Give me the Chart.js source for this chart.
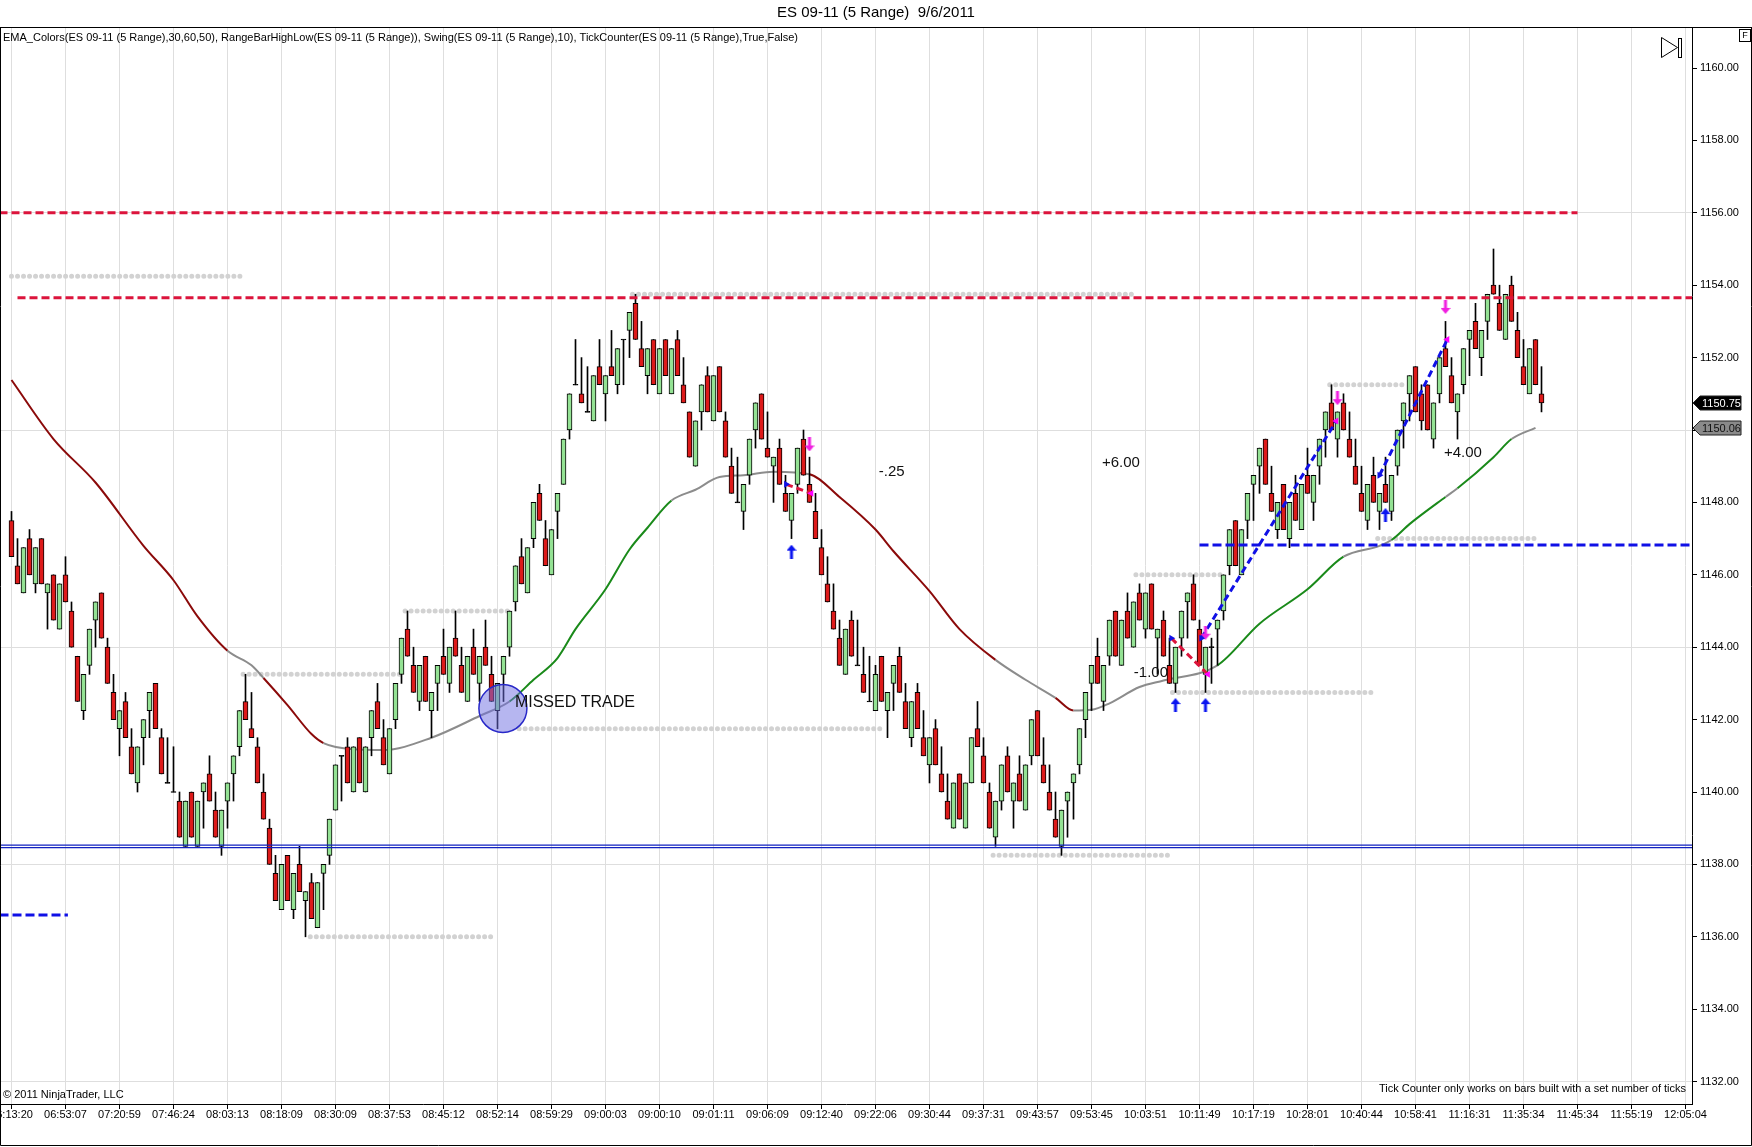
<!DOCTYPE html>
<html>
<head>
<meta charset="utf-8">
<title>ES 09-11 (5 Range) 9/6/2011</title>
<script src="https://cdn.jsdelivr.net/npm/chart.js@4.4.1/dist/chart.umd.min.js"></script>
<style>
  html, body { margin: 0; padding: 0; background: #fff; }
  #wrap { width: 1752px; height: 1147px; }
</style>
</head>
<body>
<div id="wrap"><canvas id="myChart"></canvas></div>
<script>
// 5-range bars, one per index
var opens = [
  1147.5,1146.25,1145.5,1147,1145.75,1147,1145.5,1146,1144.5,1146,
  1145,1143.75,1142.25,1143.5,1144.75,1145.5,1144,1142.75,1141.75,1142.5,
  1141.25,1140.25,1141.5,1142.25,1143,1141.5,1140.25,1140,1139.75,1138.5,
  1140,1138.5,1140,1140.5,1139.5,1138.5,1139.75,1140.5,1141.25,1142.5,
  1141.75,1141.25,1140,1139,1137.75,1136.75,1138.25,1136.75,1138,1137,
  1137.5,1136.25,1137.75,1138.25,1139.5,1141,1141.25,1140,1141.5,1140,
  1141.5,1142.5,1141.5,1140.5,1142,1143.25,1144.5,1143.5,1142.5,1143.75,
  1142.25,1143,1143.75,1143,1144.25,1143.5,1142.5,1144,1143,1144,
  1143.25,1142.25,1143.25,1144,1145.25,1146.5,1145.5,1147,1148.25,1147,
  1146,1147.75,1148.5,1150,1151.25,1151,1150.5,1150.25,1151.75,1151,
  1151.75,1151.25,1152.5,1152.75,1153.5,1152.25,1151.5,1152.5,1151,1152.5,
  1151,1152.5,1151.25,1150.5,1149,1150.5,1151.5,1150.25,1151.75,1150.25,
  1149,1148,1147.75,1148.75,1150,1151,1149.5,1149,1149.5,1148.25,
  1147.5,1148.5,1149.75,1148.5,1147.75,1146.75,1145.75,1145,1144.25,1143.25,
  1144.75,1143.5,1143.25,1142.5,1142.25,1143.75,1142.25,1143,1143.75,1142.5,
  1141.5,1142.75,1141.5,1140.75,1141.75,1140.5,1139.75,1139,1140.5,1139,
  1140.25,1141.75,1141,1140,1138.75,1139.75,1141,1139.75,1140.5,1139.5,
  1141,1142.25,1140.75,1140,1139.25,1138.5,1139.75,1140.25,1140.75,1142,
  1143,1143.75,1142.5,1143.75,1145,1143.5,1145,1144,1145.5,1144.5,
  1145.75,1144.25,1144.75,1143.5,1143,1144.25,1145.25,1145.75,1144.5,1143.25,
  1144,1144.5,1145,1146.25,1147.5,1146,1147.5,1148.5,1149,1149.75,
  1148.25,1147.25,1148.5,1147,1148.25,1147.25,1148.75,1148,1149,1150,
  1150.75,1149.75,1150.75,1149.75,1149,1148.25,1147.5,1148.75,1147.75,1148.5,
  1147.75,1149,1150.25,1151,1151.75,1151,1151.25,1149.75,1151,1152.25,
  1151.5,1150.5,1151.25,1152.5,1153,1152,1153,1154,1153.5,1152.5,
  1154,1152.75,1151.75,1151,1152.5,1151
];
var highs = [
  1147.75,1147,1146.75,1147.25,1146.75,1147,1145.75,1146,1145.75,1146.5,
  1145.25,1143.75,1143.25,1144.5,1145.25,1145.5,1144.25,1143.25,1142.25,1142.75,
  1141.75,1141.25,1142,1142.75,1143,1141.75,1141.5,1141.25,1140,1139.75,
  1140,1139.75,1140.25,1141,1140,1139.5,1140.25,1141,1142.25,1143.25,
  1142.75,1141.5,1140.5,1139.25,1138.25,1138,1138.25,1137.75,1138.5,1137.25,
  1137.75,1137.5,1138,1139.25,1140.75,1141,1141.5,1141.25,1141.5,1141.25,
  1142.25,1143,1142,1141.75,1143,1144.25,1145,1144,1143.5,1143.75,
  1142.75,1143.5,1144.5,1144,1145,1144,1143.75,1144.5,1143.75,1144.75,
  1143.75,1143,1143.75,1145,1146.25,1147,1146.75,1148,1148.5,1147.5,
  1147.25,1148.25,1149.75,1151,1152.5,1152,1151.75,1151.5,1152.5,1151.5,
  1152.75,1152.25,1152.5,1153.25,1153.75,1153,1152.25,1152.5,1152.25,1152.5,
  1152.25,1152.75,1152,1150.5,1150.25,1151.25,1151.75,1151.5,1151.75,1150.5,
  1149.5,1149.25,1148.5,1149.75,1150.75,1151,1150.5,1149.25,1149.75,1148.75,
  1148.25,1149.5,1150,1149.25,1148.25,1147.25,1146.5,1145.75,1144.75,1144.5,
  1145,1144.75,1144,1143.75,1143.5,1143.75,1142.75,1143.5,1144,1143,
  1142.5,1143,1142.25,1141.5,1142,1141.25,1140.5,1140.25,1140.5,1140.25,
  1141.5,1142.5,1141.5,1140.25,1139.75,1140.75,1141.25,1140.25,1141,1140.75,
  1142,1142.25,1141.5,1140.75,1140,1139.5,1140,1140.5,1141.75,1142.75,
  1143.5,1144.25,1143.5,1144.75,1145,1144.75,1145.5,1145.25,1145.75,1145.5,
  1145.75,1144.5,1145,1144.25,1144,1145,1145.5,1146,1144.75,1144,
  1144.25,1144.75,1146,1147.25,1147.5,1147.25,1148.25,1148.75,1149.5,1149.75,
  1149,1148,1148.5,1148,1148.75,1148.5,1149.5,1148.75,1149.75,1150.5,
  1151.25,1150.5,1151,1150.5,1149.75,1149,1148.5,1149.25,1148.25,1149.25,
  1148.75,1150,1150.75,1151.5,1151.75,1151.25,1151.25,1150.75,1152,1153,
  1152,1151,1152.25,1152.75,1153.5,1152.75,1153.75,1155,1154,1153.75,
  1154.25,1153.25,1152.5,1152.25,1152.5,1151.75
];
var lows = [
  1146.5,1145.75,1145.5,1146,1145.5,1145.75,1144.5,1144.75,1144.5,1145.25,
  1144,1142.5,1142,1143.25,1144,1144.25,1143,1142,1141,1141.5,
  1140.5,1140,1140.75,1141.5,1141.75,1140.5,1140.25,1140,1138.75,1138.5,
  1138.75,1138.5,1139,1139.75,1138.75,1138.25,1139,1139.75,1141,1142,
  1141.5,1140.25,1139.25,1138,1137,1136.75,1137,1136.5,1137.25,1136,
  1136.5,1136.25,1136.75,1138,1139.5,1139.75,1140.25,1140,1140.25,1140,
  1141,1141.75,1140.75,1140.5,1141.75,1143,1143.75,1142.75,1142.25,1142.5,
  1141.5,1142.25,1143.25,1142.75,1143.75,1142.75,1142.5,1143.25,1142.5,1143.5,
  1142.5,1141.75,1142.5,1143.75,1145,1145.75,1145.5,1146.75,1147.5,1146.25,
  1146,1147,1148.5,1149.75,1151.25,1150.75,1150.5,1150.25,1151.25,1150.25,
  1151.5,1151,1151.25,1152,1152.5,1151.75,1151,1151.25,1151,1151.5,
  1151,1151.5,1150.75,1149.25,1149,1150,1150.5,1150.25,1150.5,1149.25,
  1148.25,1148,1147.25,1148.5,1149.5,1149.75,1149.25,1148,1148.5,1147.75,
  1147,1148.25,1148.75,1148,1147,1146,1145.25,1144.5,1143.5,1143.25,
  1143.75,1143.5,1142.75,1142.5,1142.25,1142.5,1141.5,1142.25,1142.75,1141.75,
  1141.25,1141.75,1141,1140.25,1140.75,1140,1139.25,1139,1139.25,1139,
  1140.25,1141.25,1140.25,1139,1138.5,1139.5,1140,1139,1139.75,1139.5,
  1140.75,1141,1140.25,1139.5,1138.75,1138.25,1138.75,1139.25,1140.5,1141.5,
  1142.25,1143,1142.25,1143.5,1143.75,1143.5,1144.25,1144,1144.75,1144.25,
  1144.5,1143.25,1143.75,1143,1142.75,1143.75,1144.25,1144.75,1143.5,1142.75,
  1143,1143.5,1144.75,1146,1146.25,1146,1147,1147.5,1148.25,1148.5,
  1147.75,1147,1147.25,1146.75,1147.5,1147.25,1148.25,1147.5,1148.5,1149.25,
  1150,1149.25,1150,1149.25,1148.5,1147.75,1147.25,1148,1147.25,1148,
  1147.5,1148.75,1149.5,1150.25,1150.5,1150,1150,1149.5,1150.75,1151.75,
  1150.75,1149.75,1151,1151.5,1152.25,1151.5,1152.5,1153.75,1152.75,1152.5,
  1153,1152,1151.25,1151,1151.25,1150.5
];
var closes = [
  1146.5,1145.75,1146.75,1146,1146.75,1145.75,1145.75,1144.75,1145.75,1145.25,
  1144,1142.5,1143.25,1144.5,1145.25,1144.25,1143,1142,1142.25,1141.5,
  1140.5,1141.25,1142,1142.75,1141.75,1140.5,1140.25,1140,1138.75,1139.75,
  1138.75,1139.75,1140.25,1139.75,1138.75,1139.5,1140.25,1141,1142.25,1142,
  1141.5,1140.25,1139.25,1138,1137,1138,1137,1137.75,1137.25,1137.25,
  1136.5,1137.5,1138,1139.25,1140.75,1141,1140.25,1141.25,1140.25,1141.25,
  1142.25,1141.75,1140.75,1141.75,1143,1144.25,1143.75,1142.75,1143.5,1142.5,
  1142.75,1143.5,1143.25,1144,1143.75,1142.75,1143.75,1143.25,1143.75,1143.5,
  1142.5,1143,1143.75,1145,1146.25,1145.75,1146.75,1148,1147.5,1146.25,
  1147.25,1148.25,1149.75,1151,1151.25,1150.75,1150.5,1151.5,1151.25,1151.5,
  1151.5,1152.25,1152.5,1153.25,1152.5,1151.75,1152.25,1151.25,1152.25,1151.5,
  1152.25,1151.5,1150.75,1149.25,1150.25,1151.25,1150.5,1151.5,1150.5,1149.25,
  1148.25,1148,1148.5,1149.75,1150.75,1149.75,1149.25,1149.25,1148.5,1147.75,
  1148.25,1149.5,1148.75,1148,1147,1146,1145.25,1144.5,1143.5,1144.5,
  1143.75,1143.5,1142.75,1142.5,1143.25,1142.5,1142.75,1143.5,1142.75,1141.75,
  1142.5,1141.75,1141,1141.5,1140.75,1140,1139.25,1140.25,1139.25,1140.25,
  1141.5,1141.25,1140.25,1139,1139.75,1140.75,1140,1140.25,1139.75,1140.75,
  1142,1141,1140.25,1139.5,1138.75,1139.5,1140,1140.5,1141.75,1142.75,
  1143.5,1143,1143.5,1144.75,1143.75,1144.75,1144.25,1145.25,1144.75,1145.5,
  1144.5,1144.5,1143.75,1143,1144,1145,1145.5,1144.75,1143.5,1144,
  1144,1144.75,1146,1147.25,1146.25,1147.25,1148.25,1148.75,1149.5,1148.5,
  1147.75,1148,1147.25,1148,1147.5,1148.5,1148.25,1148.75,1149.75,1150.5,
  1150,1150.5,1150,1149.25,1148.5,1147.75,1148.5,1148,1148.25,1148,
  1148.75,1150,1150.75,1151.5,1150.5,1150.25,1150,1150.75,1152,1151.75,
  1150.75,1151,1152.25,1152.75,1152.25,1152.75,1153.75,1153.75,1152.75,1153.75,
  1153,1152,1151.25,1152.25,1151.25,1150.75
];

// x axis: a time label every 9 bars
var timeLabels = ["06:13:20","06:53:07","07:20:59","07:46:24","08:03:13","08:18:09","08:30:09","08:37:53",
  "08:45:12","08:52:14","08:59:29","09:00:03","09:00:10","09:01:11","09:06:09","09:12:40",
  "09:22:06","09:30:44","09:37:31","09:43:57","09:53:45","10:03:51","10:11:49","10:17:19",
  "10:28:01","10:40:44","10:58:41","11:16:31","11:35:34","11:45:34","11:55:19","12:05:04"];
var labelEvery = 9;
var priceTicks = [1132,1134,1136,1138,1140,1142,1144,1146,1148,1150,1152,1154,1156,1158,1160];

// EMA read at some bars; state: d = falling, f = flat, u = rising
var emaBars = [0,7,14,22,27,31,36,40,42,46,50,52,57,62,70,78,83,87,91,94,99,103,106,110,114,118,122,127,
  133,138,144,147,153,158,164,169,174,177,180,183,188,192,201,208,216,222,228,230,233,239,241,247,250,254];
var emaValues = [1151.38,1149.75,1148.55,1146.8,1145.85,1144.85,1143.9,1143.5,1143.15,1142.4,1141.6,1141.35,
  1141.18,1141.16,1141.5,1142.1,1142.5,1143.1,1143.7,1144.5,1145.6,1146.7,1147.3,1148.05,1148.35,1148.7,
  1148.75,1148.85,1148.78,1148.15,1147.25,1146.65,1145.55,1144.5,1143.65,1143.1,1142.6,1142.25,1142.27,
  1142.45,1142.9,1143.08,1143.5,1144.65,1145.6,1146.5,1146.8,1146.96,1147.4,1148.15,1148.39,1149.25,
  1149.75,1150.06];
var emaState = ["d","d","d","d","d","d","f","f","d","d","d","f","f","f","f","f","u","u","u","u","u","u",
  "u","f","f","f","f","f","d","d","d","d","d","d","f","f","d","f","f","f","f","f","u","u","u","f","f",
  "u","u","f","u","u","f","f"];

// swing high / low levels (gray dots)
var levelPrice = [1154.25,1153.75,1145,1143.25,1141.75,1136,1138.25,1146,1142.75,1151.25,1147];
var levelFrom  = [0,103.5,65.6,38.6,84.6,49.8,163.6,187.4,193.5,219.7,227.7];
var levelTo    = [38.4,187.4,83.2,64.8,145.5,80.5,193.5,202,227.4,232.4,254.4];

// drawn horizontal lines
var redLinePrice = [1156, 1153.65];
var redLineFrom  = [-2, 1];
var redLineTo    = [261, 281];
var blueLinePrice = [1146.82, 1136.6];
var blueLineFrom  = [198, -2];
var blueLineTo    = [281, 9.4];
var supportPrice = 1138.5;

// trades
var tradeEntryBar   = [129.1, 193.3, 198.3, 228];
var tradeEntryPrice = [1148.5, 1144.25, 1144.25, 1148.75];
var tradeExitBar    = [133.3, 199.4, 220.8, 239.3];
var tradeExitPrice  = [1148.25, 1143.25, 1150.25, 1152.5];

// swing arrows
var upArrowBar = [130, 194, 199, 229];
var upArrowPrice = [1146.64, 1142.4, 1142.4, 1147.65];
var downArrowBar = [133, 199, 221, 239];
var downArrowPrice = [1149.6, 1144.4, 1150.88, 1153.4];

// notes
var noteText  = ["MISSED TRADE", "-.25", "+6.00", "-1.00", "+4.00"];
var noteBar   = [93.9, 146.7, 184.9, 189.9, 241.9];
var notePrice = [1142.46, 1148.84, 1149.1, 1143.29, 1149.36];
var circleBar = 81.9, circlePrice = 1142.31;

var FONT = "Arial, 'Liberation Sans', sans-serif";
var upColor = "#94e294", downColor = "#dd1a1a";
var emaColors = { d: "#8b0a0a", f: "#8c8c8c", u: "#1a8a1a" };

var bodies = opens.map(function (o, i) {
  var c = closes[i];
  return { x: i, y: o === c ? [o - 0.015, o + 0.015] : [o, c] };
});
var bodyColors = opens.map(function (o, i) {
  return closes[i] > o ? upColor : (closes[i] < o ? downColor : "#000");
});
var wicks = lows.map(function (l, i) { return { x: i, y: [l, highs[i]] }; });

function hLine(price, from, to, color, width, dash, cap, order) {
  return {
    type: "line", data: [{ x: from, y: price }, { x: to, y: price }],
    borderColor: color, borderWidth: width, borderDash: dash, borderCapStyle: cap,
    pointRadius: 0, fill: false, order: order
  };
}

function makeArrow(color, up) {
  var c = document.createElement("canvas");
  c.width = 10; c.height = 14;
  var g = c.getContext("2d");
  g.fillStyle = color;
  g.beginPath();
  if (up) {
    g.moveTo(5, 0); g.lineTo(10, 6); g.lineTo(6.5, 6); g.lineTo(6.5, 14);
    g.lineTo(3.5, 14); g.lineTo(3.5, 6); g.lineTo(0, 6);
  } else {
    g.moveTo(5, 14); g.lineTo(10, 8); g.lineTo(6.5, 8); g.lineTo(6.5, 0);
    g.lineTo(3.5, 0); g.lineTo(3.5, 8); g.lineTo(0, 8);
  }
  g.closePath();
  g.fill();
  return c;
}

var datasets = [];
levelPrice.forEach(function (p, i) {
  datasets.push(hLine(p, levelFrom[i], levelTo[i], "#d2d2d2", 5, [0.01, 6], "round", 6));
});
datasets.push({
  type: "line",
  data: emaBars.map(function (b, i) { return { x: b, y: emaValues[i] }; }),
  borderWidth: 2, pointRadius: 0, fill: false, cubicInterpolationMode: "monotone", order: 5,
  borderColor: emaColors.d,
  segment: { borderColor: function (ctx) { return emaColors[emaState[ctx.p0DataIndex]]; } }
});
datasets.push({
  type: "bar", data: wicks, backgroundColor: "#000", borderWidth: 0,
  barThickness: 1, grouped: false, order: 4
});
datasets.push({
  type: "bar", data: bodies, backgroundColor: bodyColors, borderColor: "#000",
  borderWidth: 1, borderSkipped: false, barThickness: 5, grouped: false, order: 3
});
redLinePrice.forEach(function (p, i) {
  datasets.push(hLine(p, redLineFrom[i], redLineTo[i], "#dc143c", 3, [8, 4], "butt", 2));
});
blueLinePrice.forEach(function (p, i) {
  datasets.push(hLine(p, blueLineFrom[i], blueLineTo[i], "#1010e6", 3, [9, 4], "butt", 2));
});
datasets.push(hLine(supportPrice + 0.035, -2, 281, "#1020c0", 1.3, [], "butt", 2));
datasets.push(hLine(supportPrice - 0.035, -2, 281, "#1020c0", 1.3, [], "butt", 2));
tradeEntryBar.forEach(function (b, i) {
  var win = tradeExitPrice[i] > tradeEntryPrice[i];
  datasets.push({
    type: "line",
    data: [{ x: b, y: tradeEntryPrice[i] }, { x: tradeExitBar[i], y: tradeExitPrice[i] }],
    borderColor: win ? "#1010e6" : "#dc143c", borderWidth: 3, borderDash: [7, 4],
    pointRadius: 0, fill: false, order: 1
  });
});
datasets.push({
  type: "scatter", data: tradeEntryBar.map(function (b, i) { return { x: b, y: tradeEntryPrice[i] }; }),
  pointStyle: "triangle", rotation: 90, radius: 4, backgroundColor: "#1010e6", borderWidth: 0, order: 0
});
datasets.push({
  type: "scatter", data: tradeExitBar.map(function (b, i) { return { x: b, y: tradeExitPrice[i] }; }),
  pointStyle: "triangle", rotation: -90, radius: 4, backgroundColor: "#ff00ff", borderWidth: 0, order: 0
});
datasets.push({
  type: "scatter", data: upArrowBar.map(function (b, i) { return { x: b, y: upArrowPrice[i] }; }),
  pointStyle: makeArrow("#0a14f0", true), order: 0
});
datasets.push({
  type: "scatter", data: downArrowBar.map(function (b, i) { return { x: b, y: downArrowPrice[i] }; }),
  pointStyle: makeArrow("#f020e0", false), order: 0
});
datasets.push({
  type: "bubble", data: [{ x: circleBar, y: circlePrice }], radius: 24,
  backgroundColor: "rgba(110,110,225,0.5)", borderColor: "#2828c8", borderWidth: 1.5, order: -1
});

var decorations = {
  id: "decorations",
  afterDatasetsDraw: function (chart) {
    var ctx = chart.ctx, xs = chart.scales.x, ys = chart.scales.y;
    ctx.save();
    ctx.fillStyle = "#111";
    ctx.textAlign = "center";
    ctx.textBaseline = "middle";
    noteText.forEach(function (t, i) {
      ctx.font = (i === 0 ? "16px " : "15px ") + FONT;
      ctx.fillText(t, xs.getPixelForValue(noteBar[i]), ys.getPixelForValue(notePrice[i]));
    });
    ctx.restore();
  },
  afterDraw: function (chart) {
    var ctx = chart.ctx, xs = chart.scales.x, ys = chart.scales.y, area = chart.chartArea;
    var W = chart.width;
    ctx.save();
    // frame
    ctx.strokeStyle = "#000";
    ctx.lineWidth = 1;
    ctx.beginPath();
    ctx.moveTo(0, area.top + 0.5); ctx.lineTo(W, area.top + 0.5);
    ctx.moveTo(0.5, area.top); ctx.lineTo(0.5, chart.height - 1.5);
    ctx.lineTo(W - 0.5, chart.height - 1.5); ctx.lineTo(W - 0.5, area.top);
    ctx.stroke();
    // time labels under the axis
    ctx.fillStyle = "#000";
    ctx.textBaseline = "middle";
    ctx.textAlign = "center";
    ctx.font = "11px " + FONT;
    timeLabels.forEach(function (t, k) {
      ctx.fillText(t, xs.getPixelForValue(k * labelEvery), area.bottom + 11);
    });
    // title and captions
    ctx.font = "15px " + FONT;
    ctx.fillText("ES 09-11 (5 Range)  9/6/2011", 876, 13);
    ctx.textAlign = "left";
    ctx.font = "11px " + FONT;
    ctx.fillText("EMA_Colors(ES 09-11 (5 Range),30,60,50), RangeBarHighLow(ES 09-11 (5 Range)), Swing(ES 09-11 (5 Range),10), TickCounter(ES 09-11 (5 Range),True,False)", 3, 38);
    ctx.fillText("\u00a9 2011 NinjaTrader, LLC", 3, area.bottom - 9);
    ctx.textAlign = "right";
    ctx.fillText("Tick Counter only works on bars built with a set number of ticks", area.right - 6, area.bottom - 15);
    // play-to-end icon and F box
    ctx.beginPath();
    ctx.moveTo(1661.5, 37.5); ctx.lineTo(1677.5, 47.5); ctx.lineTo(1661.5, 57.5); ctx.closePath();
    ctx.stroke();
    ctx.strokeRect(1678.5, 38.5, 3, 19);
    ctx.strokeRect(1739.5, 29.5, 11, 12);
    ctx.textAlign = "center";
    ctx.font = "9px " + FONT;
    ctx.fillText("F", 1745, 36);
    // price tags on the axis
    function tag(price, fill, color, text) {
      var y = Math.round(ys.getPixelForValue(price)), x0 = area.right + 1;
      ctx.beginPath();
      ctx.moveTo(x0, y); ctx.lineTo(x0 + 7, y - 7); ctx.lineTo(1741, y - 7);
      ctx.lineTo(1741, y + 7); ctx.lineTo(x0 + 7, y + 7); ctx.closePath();
      ctx.fillStyle = fill; ctx.fill();
      ctx.strokeStyle = "#222"; ctx.stroke();
      ctx.fillStyle = color; ctx.textAlign = "left"; ctx.font = "11px " + FONT;
      ctx.fillText(text, x0 + 9, y + 0.5);
    }
    var lastClose = closes[closes.length - 1], lastEma = emaValues[emaValues.length - 1];
    tag(lastClose, "#000", "#fff", lastClose.toFixed(2));
    tag(lastEma, "#8a8a8a", "#111", lastEma.toFixed(2));
    ctx.restore();
  }
};

var xMin = -11.5 / 6;
var ctx = document.getElementById("myChart");
var myChart = new Chart(ctx, {
  type: "bar",
  data: { datasets: datasets },
  plugins: [decorations],
  options: {
    responsive: true,
    maintainAspectRatio: false,
    animation: false,
    devicePixelRatio: 1,
    events: [],
    layout: { autoPadding: false, padding: { top: 27, left: 0, right: 0, bottom: 0 } },
    plugins: { legend: { display: false }, tooltip: { enabled: false }, title: { display: false } },
    scales: {
      x: {
        type: "linear", min: xMin, max: xMin + 282, offset: false,
        grid: { offset: false, color: "#dedede", lineWidth: 1, tickLength: 5, tickColor: "#000" },
        border: { display: true, color: "#000", width: 1 },
        ticks: { display: false },
        afterBuildTicks: function (s) {
          s.ticks = timeLabels.map(function (t, k) { return { value: k * labelEvery }; });
        },
        afterFit: function (s) { s.height = 43; s.paddingLeft = 0; s.paddingRight = 0; }
      },
      y: {
        type: "linear", position: "right",
        min: 1160 + 41 / 36.2, max: 1160 + 41 / 36.2 - 1077 / 36.2,
        grid: {
          color: function (c) { return (c.tick && (c.tick.value - 1132) % 6 === 0) ? "#dedede" : "rgba(0,0,0,0)"; },
          tickLength: 5, tickColor: "#000"
        },
        border: { display: true, color: "#000", width: 1 },
        ticks: {
          padding: 3, color: "#000", font: { family: FONT, size: 11 },
          callback: function (v) { return v.toFixed(2); }
        },
        afterBuildTicks: function (s) {
          s.ticks = priceTicks.map(function (v) { return { value: v }; });
        },
        afterFit: function (s) { s.width = 60; s.paddingTop = 0; s.paddingBottom = 0; }
      }
    }
  }
});
</script>
</body>
</html>
